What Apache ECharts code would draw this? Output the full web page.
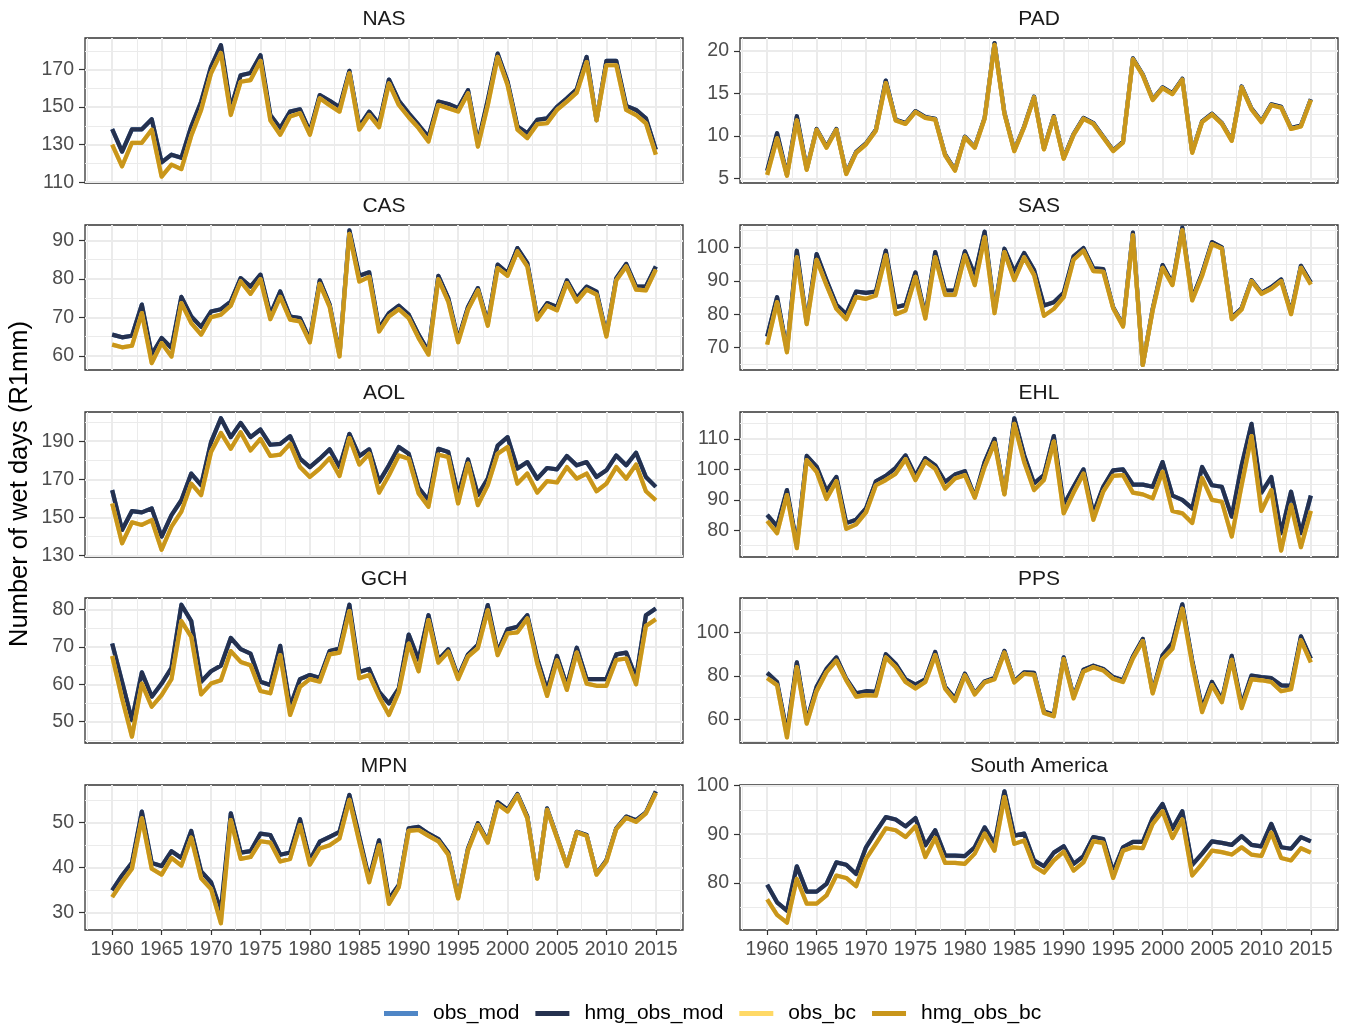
<!DOCTYPE html>
<html>
<head>
<meta charset="utf-8">
<script src="https://cdn.jsdelivr.net/npm/echarts@6/dist/echarts.min.js"></script>
<style>
  html, body { margin: 0; padding: 0; background: #ffffff; }
  #chart { width: 1348px; height: 1026px; }
</style>
</head>
<body>
<div id="chart"></div>
<script>
// ---- data: annual number of wet days (R1mm) per region, 1960-2015 ----
const years = [1960,1961,1962,1963,1964,1965,1966,1967,1968,1969,
               1970,1971,1972,1973,1974,1975,1976,1977,1978,1979,
               1980,1981,1982,1983,1984,1985,1986,1987,1988,1989,
               1990,1991,1992,1993,1994,1995,1996,1997,1998,1999,
               2000,2001,2002,2003,2004,2005,2006,2007,2008,2009,
               2010,2011,2012,2013,2014,2015];
const xTickYears = [1960,1965,1970,1975,1980,1985,1990,1995,2000,2005,2010,2015];
const seriesNames = ['obs_mod','hmg_obs_mod','obs_bc','hmg_obs_bc'];
const regionNames = ['NAS','PAD','CAS','SAS','AOL','EHL','GCH','PPS','MPN','South America'];

const NAS_hmg_obs_mod = [138.3,126.3,138.2,138.2,143.5,120.6,124.7,123.0,139.7,152.9,
  171.4,183.0,149.4,167.0,168.2,177.6,145.8,138.8,147.6,148.8,
  137.0,156.4,153.4,149.9,169.3,139.7,147.6,141.0,164.7,153.4,
  146.7,140.5,134.0,152.9,151.7,149.4,159.0,130.8,153.8,178.5,
  163.5,139.7,136.1,143.2,144.0,150.2,154.7,159.5,176.7,143.0,
  174.6,174.6,150.6,148.5,144.0,127.3];
const NAS_hmg_obs_bc = [130.0,118.5,131.0,131.0,138.0,113.0,119.4,117.0,134.7,148.5,
  168.0,178.8,145.8,163.5,164.4,174.6,143.0,135.3,145.0,146.7,
  135.3,154.7,151.0,147.6,168.0,138.0,145.8,139.3,162.6,151.1,
  144.6,138.8,131.7,151.1,149.4,147.6,157.3,129.0,151.0,176.7,
  161.7,138.0,133.5,140.9,141.4,148.5,152.9,157.7,174.0,143.0,
  172.3,172.3,148.5,145.8,141.4,124.7];

const PAD_hmg_obs_mod = [5.9,10.3,5.4,12.3,6.1,10.8,8.7,10.8,5.6,8.1,
  9.1,10.7,16.5,11.9,11.5,12.9,12.2,12.0,7.8,6.0,
  9.9,8.7,12.1,20.9,12.7,8.3,11.1,14.6,8.5,12.3,
  7.4,10.2,12.1,11.5,9.9,8.3,9.3,19.1,17.2,14.3,
  15.7,15.0,16.7,8.1,11.7,12.6,11.5,9.5,15.8,13.2,
  11.7,13.7,13.4,10.9,11.2,14.3];
const PAD_hmg_obs_bc = [5.4,9.7,5.3,11.8,6.0,10.7,8.6,10.7,5.5,8.0,
  9.0,10.6,16.2,11.8,11.4,12.8,12.1,11.9,7.7,5.9,
  9.8,8.6,12.0,20.7,12.6,8.2,11.0,14.5,8.4,12.2,
  7.3,10.1,12.0,11.4,9.8,8.2,9.2,19.0,17.1,14.2,
  15.6,14.9,16.6,8.0,11.6,12.5,11.4,9.4,15.7,13.1,
  11.6,13.6,13.3,10.8,11.1,14.2];

const CAS_hmg_obs_mod = [65.5,64.8,65.2,73.3,60.3,64.6,62.0,75.3,70.2,67.5,
  71.5,72.1,74.1,80.2,78.0,81.1,70.7,76.7,70.2,69.8,
  64.2,79.6,73.3,60.3,92.6,80.8,81.7,67.2,71.1,73.0,
  70.7,65.5,61.1,80.8,75.0,64.2,72.7,77.6,68.5,83.7,
  81.5,88.0,84.1,70.0,73.7,72.7,79.6,75.0,78.0,76.7,
  65.5,80.2,83.9,78.0,78.0,83.2];
const CAS_hmg_obs_bc = [62.9,62.2,62.6,71.1,58.1,63.3,59.8,73.7,68.5,65.5,
  70.0,70.7,73.0,79.3,76.1,79.9,69.5,75.3,69.4,68.9,
  63.5,78.7,72.7,59.8,91.7,79.3,80.5,66.3,70.2,72.1,
  69.8,64.6,60.3,79.9,74.1,63.5,72.0,77.0,67.8,82.8,
  80.8,87.1,83.2,69.4,73.0,71.8,78.9,74.1,77.2,75.9,
  65.0,79.6,83.2,77.2,77.0,82.4];

const SAS_hmg_obs_mod = [73.3,85.1,69.2,99.0,77.5,98.0,90.2,82.8,80.0,86.8,
  86.4,86.8,99.0,82.1,82.8,92.5,79.5,98.6,87.1,87.1,
  98.8,91.7,104.7,81.0,99.6,92.7,98.3,93.2,82.6,83.6,
  86.4,97.3,99.8,93.7,93.5,82.1,76.7,104.4,64.8,81.6,
  94.7,89.2,105.9,84.8,92.2,101.6,100.0,79.0,81.8,90.2,
  86.4,88.1,90.4,80.5,94.5,89.5];
const SAS_hmg_obs_bc = [70.9,83.6,68.6,97.0,77.0,96.3,88.7,81.6,78.5,85.1,
  84.6,85.6,97.6,80.0,81.1,91.2,78.7,97.0,85.8,85.8,
  97.6,88.7,103.0,80.3,98.6,90.2,97.0,91.7,79.5,81.6,
  85.1,96.3,99.0,92.9,92.7,81.8,76.3,103.6,64.8,81.1,
  93.9,88.7,105.1,84.1,91.5,101.0,99.6,78.5,81.4,89.9,
  86.1,87.6,89.9,80.0,93.9,88.9];

const AOL_hmg_obs_mod = [164.3,143.4,153.3,152.6,154.7,139.9,151.2,159.0,173.0,166.9,
  189.5,202.0,192.1,199.6,192.1,196.1,188.1,188.6,192.6,180.8,
  176.4,180.8,185.7,176.4,193.8,182.2,185.7,168.6,177.3,186.9,
  183.4,165.5,159.0,186.0,184.3,161.7,180.4,161.7,170.3,187.7,
  192.1,175.6,179.0,170.3,175.9,175.2,182.2,177.3,179.0,171.2,
  174.7,182.5,177.3,183.9,171.2,166.0];
const AOL_hmg_obs_bc = [157.3,136.4,147.4,146.0,148.6,133.0,145.1,153.0,167.7,161.7,
  184.3,194.3,186.0,194.7,185.1,191.2,182.2,182.9,188.6,176.4,
  171.2,175.6,181.1,171.7,191.6,177.7,183.4,163.0,172.1,182.5,
  180.8,162.5,155.6,182.9,181.7,157.3,178.2,156.4,166.9,183.4,
  186.9,167.7,173.0,163.0,169.0,168.3,176.4,170.3,173.0,163.7,
  167.7,176.4,170.3,177.7,163.7,159.0];

const EHL_hmg_obs_mod = [85.1,81.3,93.2,75.3,104.4,100.9,92.9,97.5,82.4,83.5,
  87.2,96.1,97.9,100.5,104.6,97.9,103.7,101.3,95.9,98.3,
  99.4,91.0,102.4,110.0,92.1,116.7,104.6,95.4,98.1,110.9,
  88.3,94.3,100.0,85.6,94.3,99.7,100.0,95.0,95.0,94.3,
  102.4,91.4,90.0,87.2,100.8,94.8,94.3,84.5,101.3,114.9,
  92.4,97.5,79.1,92.7,79.1,91.4];
const EHL_hmg_obs_bc = [83.1,79.1,91.6,74.2,103.0,99.2,90.3,96.1,80.5,82.0,
  85.9,94.8,96.5,98.6,103.3,96.5,102.6,100.2,93.7,97.0,
  98.1,90.7,100.8,108.7,91.8,114.9,102.4,93.2,96.5,109.1,
  85.6,92.4,98.6,83.5,92.7,97.9,98.1,92.4,91.8,90.5,
  99.2,86.4,85.6,82.4,97.2,90.0,89.4,78.0,94.8,110.9,
  86.4,93.2,73.4,88.3,74.5,86.4];

const GCH_hmg_obs_mod = [70.9,60.7,50.4,63.2,56.7,60.2,64.4,81.3,76.9,60.7,
  63.5,65.0,72.4,69.4,68.2,60.7,59.8,70.3,54.0,61.4,
  62.5,61.7,68.9,69.6,81.3,63.3,64.1,58.0,54.9,58.9,
  73.3,66.5,78.5,66.5,69.4,62.0,68.0,70.6,81.2,68.7,
  74.7,75.4,78.5,66.9,58.4,67.6,59.6,69.8,61.4,61.4,
  61.4,68.0,68.5,61.7,78.5,80.3];
const GCH_hmg_obs_bc = [67.6,56.2,46.0,60.2,54.0,57.1,61.4,76.9,72.7,57.3,
  60.2,61.1,68.9,66.0,65.1,58.2,57.6,67.8,51.8,59.3,
  61.4,60.7,68.0,68.5,79.6,61.6,62.5,56.7,51.8,58.0,
  70.9,63.5,77.2,65.8,68.7,61.4,67.4,69.7,79.8,67.8,
  73.6,73.9,77.6,65.6,56.9,66.4,58.5,68.5,60.2,59.6,
  59.6,66.5,66.9,60.0,75.6,77.4];

const PPS_hmg_obs_mod = [81.4,77.2,54.0,86.2,59.3,75.0,83.2,88.5,78.7,72.0,
  73.0,72.7,90.0,85.5,78.4,76.0,78.4,91.0,75.0,69.7,
  81.0,72.0,77.5,79.1,91.5,77.5,81.7,81.4,63.7,62.2,
  88.5,70.5,82.9,84.7,83.2,79.5,78.0,88.9,97.0,72.7,
  89.5,95.2,112.9,87.0,65.2,77.2,69.0,89.2,66.7,80.2,
  79.5,79.0,75.7,75.4,98.2,88.0];
const PPS_hmg_obs_bc = [79.0,75.7,51.8,84.0,58.1,73.0,81.7,87.0,78.0,70.5,
  71.2,70.9,88.5,84.0,77.2,74.2,77.2,89.5,74.2,68.5,
  80.2,71.5,77.0,78.5,90.7,77.0,81.0,80.5,63.0,61.5,
  87.7,69.7,82.0,84.0,82.5,78.7,77.2,88.0,96.0,72.0,
  87.7,92.5,110.9,85.5,63.4,75.7,67.9,87.4,65.2,78.4,
  78.0,77.2,73.0,73.9,96.4,86.2];

const MPN_hmg_obs_mod = [34.9,38.2,41.0,52.4,41.0,40.3,43.6,42.1,48.1,39.1,
  36.7,30.4,52.0,43.3,43.6,47.5,47.2,42.8,43.3,50.7,
  41.6,45.7,46.8,47.9,56.1,46.8,37.5,46.0,33.0,36.1,
  48.7,49.0,47.5,46.3,43.3,33.4,44.2,49.8,45.8,54.5,
  52.8,56.3,51.3,37.6,53.1,46.8,40.4,47.9,47.2,38.6,
  41.6,48.7,51.3,50.5,52.2,56.9];
const MPN_hmg_obs_bc = [33.4,36.7,39.7,50.9,39.7,38.4,42.1,40.4,46.6,37.6,
  35.2,27.6,50.5,41.9,42.3,45.8,45.5,41.3,41.9,49.4,
  40.6,44.2,44.9,46.4,55.0,45.7,36.7,44.9,31.9,35.6,
  48.1,48.3,47.0,45.8,42.8,33.1,43.8,49.4,45.5,54.0,
  52.4,56.0,50.9,37.5,52.8,46.6,40.3,47.8,47.0,38.4,
  41.3,48.5,51.0,50.1,52.0,56.5];

const SA_hmg_obs_mod = [79.6,76.0,74.3,83.4,78.2,78.2,79.8,84.2,83.7,81.8,
  87.3,90.5,93.5,93.0,91.6,93.3,87.7,90.8,85.6,85.6,
  85.5,87.3,91.4,88.0,98.8,89.7,90.1,84.6,83.4,86.2,
  87.5,83.9,85.5,89.4,89.0,82.3,87.3,88.4,88.4,93.3,
  96.2,91.1,94.7,83.7,86.0,88.5,88.2,87.8,89.6,87.8,
  87.5,92.1,87.3,87.0,89.4,88.5];
const SA_hmg_obs_bc = [76.6,73.4,71.8,80.8,75.7,75.7,77.4,81.5,81.0,79.3,
  84.9,88.0,91.2,90.8,89.4,91.6,85.3,89.2,84.1,84.1,
  83.9,86.0,90.1,86.6,97.6,88.0,88.7,83.4,82.1,84.6,
  86.4,82.5,84.2,88.5,88.2,81.0,86.6,87.3,87.1,92.1,
  94.7,89.2,93.0,81.5,83.9,86.6,86.3,85.8,87.3,85.8,
  85.5,90.3,85.1,84.6,87.1,86.2];

// The raw (non-homogenized) series coincide with the homogenized ones at this scale
const obsModByRegion = [NAS_hmg_obs_mod, PAD_hmg_obs_mod, CAS_hmg_obs_mod, SAS_hmg_obs_mod, AOL_hmg_obs_mod,
                        EHL_hmg_obs_mod, GCH_hmg_obs_mod, PPS_hmg_obs_mod, MPN_hmg_obs_mod, SA_hmg_obs_mod];
const hmgModByRegion = obsModByRegion;
const obsBcByRegion = [NAS_hmg_obs_bc, PAD_hmg_obs_bc, CAS_hmg_obs_bc, SAS_hmg_obs_bc, AOL_hmg_obs_bc,
                       EHL_hmg_obs_bc, GCH_hmg_obs_bc, PPS_hmg_obs_bc, MPN_hmg_obs_bc, SA_hmg_obs_bc];
const hmgBcByRegion = obsBcByRegion;

// y-axis breaks per panel
const yMajor = [[110,130,150,170],[5,10,15,20],[60,70,80,90],[70,80,90,100],[130,150,170,190],
                [80,90,100,110],[50,60,70,80],[60,80,100],[30,40,50],[80,90,100]];
const yMinor = [[120,140,160,180],[7.5,12.5,17.5],[65,75,85],[65,75,85,95,105],[140,160,180,200],
                [75,85,95,105,115],[45,55,65,75],[50,70,90,110],[35,45,55],[75,85,95]];
const yRange = [[109.6,186.8],[4.45,21.5],[56.3,94.0],[63.3,106.7],[129.2,205.3],
                [71.3,118.8],[44.3,83.1],[49.2,115.8],[26.1,58.3],[70.3,100.1]];
const xMinor = [1957.5,1962.5,1967.5,1972.5,1977.5,1982.5,1987.5,1992.5,1997.5,2002.5,2007.5,2012.5,2017.5];

// ---- layout ----
const FONT = "'Liberation Sans', Arial, Helvetica, sans-serif";
const colLeft = [85, 740];
const rowTop = [38, 225, 412, 598, 785];
const panelW = 598, panelH = 145;
const colors = { obs_mod: '#4f86c6', hmg_obs_mod: '#25314f', obs_bc: '#ffd966', hmg_obs_bc: '#c9961b' };

const grids = [], xAxes = [], yAxes = [], series = [], graphics = [];

regionNames.forEach((name, i) => {
  const col = i % 2, row = Math.floor(i / 2);
  const bottomRow = row === 4;
  grids.push({
    left: colLeft[col], top: rowTop[row], width: panelW, height: panelH,
    show: true, borderColor: '#333333', borderWidth: 1.3, backgroundColor: '#ffffff',
    containLabel: false, outerBoundsMode: 'none'
  });
  xAxes.push({
    type: 'value', gridIndex: i, min: 1957.25, max: 2017.75,
    axisLine: { show: false }, splitLine: { show: false },
    axisTick: { show: bottomRow, customValues: xTickYears, length: 5, lineStyle: { color: '#333333', width: 1.2 } },
    axisLabel: { show: bottomRow, customValues: xTickYears, formatter: v => String(v),
                 color: '#4d4d4d', fontSize: 19.5, fontFamily: FONT, margin: 10 }
  });
  yAxes.push({
    type: 'value', gridIndex: i, min: yRange[i][0], max: yRange[i][1],
    axisLine: { show: false }, splitLine: { show: false },
    axisTick: { show: true, customValues: yMajor[i], length: 6, lineStyle: { color: '#333333', width: 1.2 } },
    axisLabel: { customValues: yMajor[i], formatter: v => String(v),
                 color: '#4d4d4d', fontSize: 19.5, fontFamily: FONT, margin: 11 }
  });

  // panel grid lines, kept beneath the data lines
  const gl = [];
  xMinor.forEach(v => gl.push({ xAxis: v, lineStyle: { color: '#ebebeb', width: 1, type: 'solid' } }));
  yMinor[i].forEach(v => gl.push({ yAxis: v, lineStyle: { color: '#ebebeb', width: 1, type: 'solid' } }));
  xTickYears.forEach(v => gl.push({ xAxis: v, lineStyle: { color: '#ebebeb', width: 2, type: 'solid' } }));
  yMajor[i].forEach(v => gl.push({ yAxis: v, lineStyle: { color: '#ebebeb', width: 2, type: 'solid' } }));
  series.push({
    name: 'grid-' + i, type: 'line', xAxisIndex: i, yAxisIndex: i, data: [], silent: true, z: 1,
    markLine: { silent: true, z: 1, symbol: ['none', 'none'], label: { show: false }, animation: false, data: gl }
  });

  const perSeries = [obsModByRegion[i], hmgModByRegion[i], obsBcByRegion[i], hmgBcByRegion[i]];
  seriesNames.forEach((sn, k) => {
    series.push({
      name: sn, type: 'line', xAxisIndex: i, yAxisIndex: i, z: 3 + k,
      showSymbol: false, symbol: 'none', animation: false,
      lineStyle: { color: colors[sn], width: 4.2, join: 'round' },
      itemStyle: { color: colors[sn] },
      data: years.map((y, j) => [y, perSeries[k][j]])
    });
  });

  graphics.push({
    type: 'text', x: colLeft[col] + panelW / 2, y: rowTop[row] - 19,
    style: { text: name, fontSize: 21, fontFamily: FONT, fill: '#1a1a1a', textAlign: 'center', textVerticalAlign: 'middle' }
  });
});

graphics.push({
  type: 'text', x: 20, y: 484, rotation: Math.PI / 2,
  style: { text: 'Number of wet days (R1mm)', fontSize: 25.5, fontFamily: FONT, fill: '#000000', textAlign: 'center', textVerticalAlign: 'middle' }
});

const chart = echarts.init(document.getElementById('chart'), null, { renderer: 'canvas' });
chart.setOption({
  animation: false,
  backgroundColor: '#ffffff',
  grid: grids,
  xAxis: xAxes,
  yAxis: yAxes,
  legend: {
    data: seriesNames.map(n => ({ name: n, icon: 'rect' })),
    left: 379, top: 998, orient: 'horizontal',
    itemWidth: 34, itemHeight: 5, itemGap: 16,
    textStyle: { fontSize: 21, fontFamily: FONT, color: '#000000', padding: [0, 0, 0, 10] }
  },
  graphic: graphics,
  series: series
});
</script>
</body>
</html>
